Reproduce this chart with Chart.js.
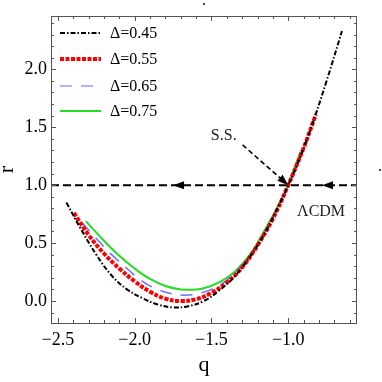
<!DOCTYPE html>
<html>
<head>
<meta charset="utf-8">
<script src="https://cdn.jsdelivr.net/npm/chart.js@4"></script>
<style>
  html, body { margin: 0; padding: 0; background: #fff; }
  #chart { display: block; }
</style>
</head>
<body>
<canvas id="chart" width="382" height="382"></canvas>
<script>
// r(q) curves for each Delta
const q45 = [-2.445, -2.35, -2.25, -2.15, -2.05, -1.95, -1.85, -1.75, -1.65, -1.55, -1.45, -1.35, -1.25, -1.15, -1.05, -1.0, -0.95, -0.85, -0.75, -0.65];
const r45 = [0.85, 0.62, 0.40, 0.22, 0.10, 0.025, -0.03, -0.055, -0.045, 0.0, 0.09, 0.21, 0.38, 0.59, 0.855, 1.0, 1.15, 1.50, 1.90, 2.33];

const q55 = [-2.396, -2.30, -2.20, -2.10, -2.00, -1.90, -1.80, -1.70, -1.60, -1.50, -1.40, -1.30, -1.20, -1.10, -1.00, -0.90, -0.82];
const r55 = [0.76, 0.57, 0.41, 0.28, 0.17, 0.08, 0.02, 0.0, 0.015, 0.07, 0.16, 0.29, 0.48, 0.71, 1.0, 1.32, 1.61];

const q65 = [-2.346, -2.25, -2.15, -2.05, -1.95, -1.85, -1.75, -1.68, -1.60, -1.50, -1.40, -1.30, -1.20, -1.10, -1.00, -0.95, -0.874];
const r65 = [0.68, 0.54, 0.40, 0.28, 0.17, 0.10, 0.06, 0.05, 0.06, 0.10, 0.18, 0.31, 0.49, 0.72, 1.0, 1.15, 1.39];

const q75 = [-2.318, -2.20, -2.10, -2.00, -1.90, -1.80, -1.70, -1.64, -1.55, -1.45, -1.35, -1.25, -1.15, -1.05, -1.00, -0.92];
const r75 = [0.69, 0.52, 0.39, 0.28, 0.19, 0.13, 0.10, 0.097, 0.11, 0.16, 0.25, 0.40, 0.62, 0.86, 1.0, 1.29];

const labels = ['\u0394=0.45', '\u0394=0.55', '\u0394=0.65', '\u0394=0.75'];

// LCDM line, its arrows and the S.S. marker
const lcdmR = 1.0;
const lcdmArrowsQ = [-1.75, -0.78];
const ssPoint = [-1.0, 1.0];
const ssFrom = [-1.297, 1.347];
const ssLabelAt = [-1.42, 1.43];
const lcdmLabelAt = [-0.786, 0.77];

// axis range and ticks
const qRange = [-2.545, -0.552];
const rRange = [-0.19, 2.46];
const qTicks = [-2.5, -2.0, -1.5, -1.0];
const rTicks = [0.0, 0.5, 1.0, 1.5, 2.0];

const SERIF = '"Liberation Serif", "DejaVu Serif", serif';

function pts(qs, rs) {
  return qs.map((q, i) => ({ x: q, y: rs[i] }));
}

function fmt(v) {
  const s = Math.abs(v).toFixed(1);
  return v < 0 ? '\u2212' + s : s;
}

function arrowHead(ctx, x, y, ang, len, half) {
  ctx.save();
  ctx.translate(x, y);
  ctx.rotate(ang);
  ctx.beginPath();
  ctx.moveTo(0, 0);
  ctx.lineTo(-len, -half);
  ctx.lineTo(-len, half);
  ctx.closePath();
  ctx.fill();
  ctx.restore();
}

// frame with inward ticks on all four sides, like the original
const framePlugin = {
  id: 'frame',
  afterDatasetsDraw(chart) {
    const ctx = chart.ctx;
    const a = chart.chartArea;
    const xs = chart.scales.x, ys = chart.scales.y;
    ctx.save();
    ctx.strokeStyle = '#555';
    ctx.lineWidth = 1;
    ctx.setLineDash([]);
    ctx.strokeRect(a.left + 0.5, a.top + 0.5, a.right - a.left - 1, a.bottom - a.top);
    ctx.beginPath();
    for (let i = -25; i <= -6; i++) {
      const px = Math.round(xs.getPixelForValue(i / 10)) + 0.5;
      const len = i % 5 === 0 ? 5 : 3;
      ctx.moveTo(px, a.bottom); ctx.lineTo(px, a.bottom - len);
      ctx.moveTo(px, a.top); ctx.lineTo(px, a.top + len);
    }
    for (let i = -1; i <= 24; i++) {
      const py = Math.round(ys.getPixelForValue(i / 10)) + 0.5;
      const len = i % 5 === 0 ? 5 : 3;
      ctx.moveTo(a.left, py); ctx.lineTo(a.left + len, py);
      ctx.moveTo(a.right, py); ctx.lineTo(a.right - len, py);
    }
    ctx.stroke();

    // arrows on the LCDM line
    ctx.fillStyle = '#000';
    lcdmArrowsQ.forEach(q => {
      arrowHead(ctx, xs.getPixelForValue(q), ys.getPixelForValue(lcdmR), Math.PI, 11, 4);
    });

    // S.S. pointer
    const x0 = xs.getPixelForValue(ssFrom[0]), y0 = ys.getPixelForValue(ssFrom[1]);
    const x1 = xs.getPixelForValue(ssPoint[0]), y1 = ys.getPixelForValue(ssPoint[1]);
    const ang = Math.atan2(y1 - y0, x1 - x0);
    ctx.strokeStyle = '#000';
    ctx.lineWidth = 1.6;
    ctx.setLineDash([5, 3]);
    ctx.beginPath();
    ctx.moveTo(x0, y0);
    ctx.lineTo(x1 - 9 * Math.cos(ang), y1 - 9 * Math.sin(ang));
    ctx.stroke();
    ctx.setLineDash([]);
    arrowHead(ctx, x1, y1, ang, 11, 4);

    ctx.font = '16px ' + SERIF;
    ctx.fillStyle = '#222';
    ctx.textAlign = 'center';
    ctx.textBaseline = 'middle';
    ctx.fillText('S.S.', xs.getPixelForValue(ssLabelAt[0]), ys.getPixelForValue(ssLabelAt[1]));
    ctx.fillText('\u039BCDM', xs.getPixelForValue(lcdmLabelAt[0]), ys.getPixelForValue(lcdmLabelAt[1]));

    // legend inside the plot, top-left
    ctx.font = '16px ' + SERIF;
    ctx.textAlign = 'left';
    ctx.fillStyle = '#000';
    const rows = [33, 59, 86, 111];
    chart.data.datasets.slice(0, 4).forEach((ds, i) => {
      ctx.strokeStyle = i === 2 ? '#9c9cff' : ds.borderColor;
      ctx.lineWidth = ds.borderWidth;
      ctx.setLineDash(ds.borderDash || []);
      ctx.beginPath();
      ctx.moveTo(60, rows[i]);
      ctx.lineTo(101, rows[i]);
      ctx.stroke();
      ctx.setLineDash([]);
      ctx.fillText(labels[i], 110, rows[i] + 1);
    });

    // stray specks in the original
    ctx.fillStyle = '#444';
    ctx.fillRect(203, 3, 2, 2);
    ctx.fillRect(379, 169, 2, 2);
    ctx.restore();
  }
};

const ctx = document.getElementById('chart').getContext('2d');
new Chart(ctx, {
  type: 'line',
  data: {
    datasets: [
      { data: pts(q45, r45), borderColor: '#000000', borderWidth: 2, borderDash: [5, 2, 1.5, 2] },
      { data: pts(q55, r55), borderColor: '#ff0000', borderWidth: 4, borderDash: [4, 1.5] },
      { data: pts(q65, r65), borderColor: '#6e6eff', borderWidth: 1.5, borderDash: [12, 9] },
      { data: pts(q75, r75), borderColor: '#22dd22', borderWidth: 2 },
      { data: pts(qRange, [lcdmR, lcdmR]), borderColor: '#000000', borderWidth: 2, borderDash: [8, 4], tension: 0 }
    ]
  },
  options: {
    responsive: false,
    animation: false,
    devicePixelRatio: 1,
    layout: { padding: { top: 16, right: 25, left: 0, bottom: 0 } },
    elements: {
      point: { radius: 0 },
      line: { tension: 0.4, fill: false, borderCapStyle: 'butt' }
    },
    plugins: { legend: { display: false }, tooltip: { enabled: false } },
    scales: {
      x: {
        type: 'linear',
        min: qRange[0], max: qRange[1],
        grid: { display: false, drawTicks: false },
        border: { display: false },
        afterBuildTicks: s => { s.ticks = qTicks.map(v => ({ value: v })); },
        afterFit: s => { s.height = 59; },
        ticks: { color: '#000', font: { family: SERIF, size: 18 }, padding: 6, maxRotation: 0, callback: v => fmt(v) },
        title: { display: true, text: 'q', color: '#000', font: { family: SERIF, size: 22 }, padding: { bottom: 4 } }
      },
      y: {
        type: 'linear',
        min: rRange[0], max: rRange[1],
        grid: { display: false, drawTicks: false },
        border: { display: false },
        afterBuildTicks: s => { s.ticks = rTicks.map(v => ({ value: v })); },
        afterFit: s => { s.width = 51; },
        ticks: { color: '#000', font: { family: SERIF, size: 18 }, padding: 4, callback: v => fmt(v) },
        title: { display: true, text: 'r', color: '#000', font: { family: SERIF, size: 22 }, padding: { top: -6 } }
      }
    }
  },
  plugins: [framePlugin]
});
</script>
</body>
</html>
